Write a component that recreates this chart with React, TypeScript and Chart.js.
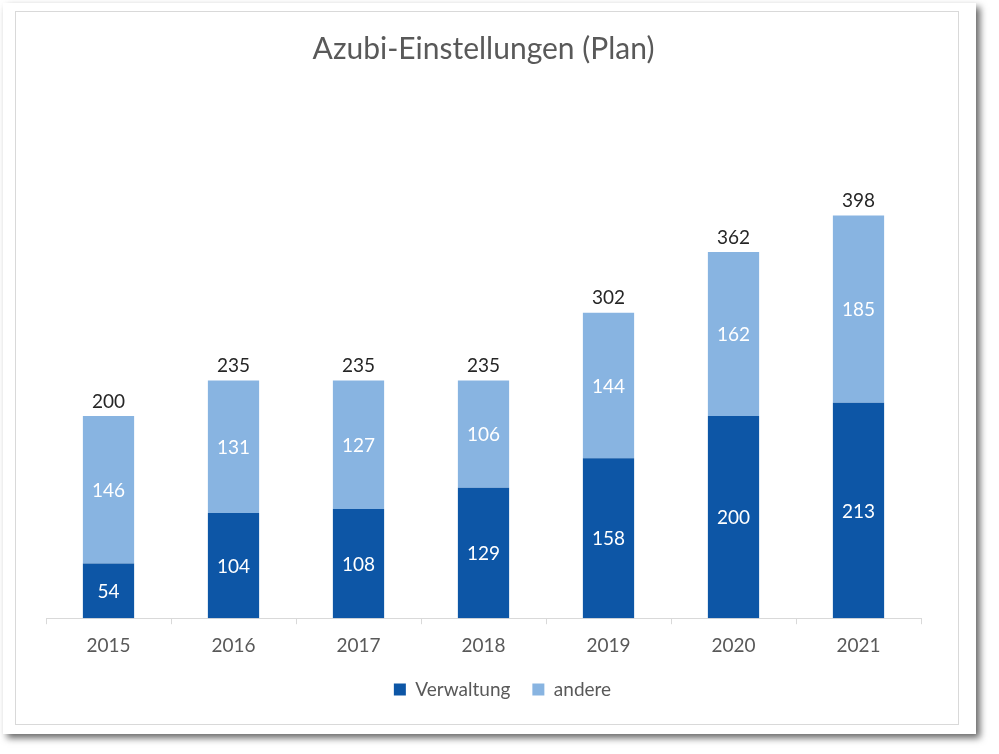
import React, { useEffect, useRef } from "react";
import { Chart, registerables } from "chart.js";

Chart.register(...registerables);

const categories = ["2015", "2016", "2017", "2018", "2019", "2020", "2021"];
const verwaltung = [54, 104, 108, 129, 158, 200, 213];
const andere = [146, 131, 127, 106, 144, 162, 185];
const chartTitle = "Azubi-Einstellungen (Plan)";
const seriesNames = ["Verwaltung", "andere"];

const FONT = "Lato, 'Open Sans', sans-serif";

const labelsPlugin = {
  id: "stackLabels",
  afterLayout(chart: any) {
    const lg = chart.legend;
    if (lg) {
      lg.left += 19;
      lg.right += 19;
      lg.top -= 9;
      lg.bottom -= 9;
    }
  },
  afterDatasetsDraw(chart: any) {
    const ctx = chart.ctx;
    ctx.save();
    ctx.font = `19px ${FONT}`;
    ctx.textAlign = "center";
    chart.data.datasets.forEach((ds: any, di: number) => {
      const meta = chart.getDatasetMeta(di);
      meta.data.forEach((el: any, i: number) => {
        const { x, y, base } = el.getProps(["x", "y", "base"], true);
        ctx.fillStyle = "#ffffff";
        ctx.textBaseline = "middle";
        ctx.fillText(String(ds.data[i]), x, (y + base) / 2 + 1);
      });
    });
    const last = chart.getDatasetMeta(chart.data.datasets.length - 1);
    last.data.forEach((el: any, i: number) => {
      const { x, y } = el.getProps(["x", "y"], true);
      const total = chart.data.datasets.reduce((s: number, ds: any) => s + ds.data[i], 0);
      ctx.fillStyle = "#262626";
      ctx.textBaseline = "bottom";
      ctx.fillText(String(total), x, y - 5);
    });
    ctx.restore();
  },
};

export default function App() {
  const ref = useRef<HTMLCanvasElement>(null);
  useEffect(() => {
    if (!ref.current) return;
    const chart = new Chart(ref.current, {
      type: "bar",
      data: {
        labels: categories,
        datasets: [
          { label: seriesNames[0], data: verwaltung, backgroundColor: "#0D56A6", barPercentage: 0.41, categoryPercentage: 1 },
          { label: seriesNames[1], data: andere, backgroundColor: "#88B4E1", barPercentage: 0.41, categoryPercentage: 1 },
        ],
      },
      options: {
        animation: false,
        responsive: false,
        layout: { padding: { left: 30, right: 37, top: 0, bottom: 6 } },
        scales: {
          x: {
            stacked: true,
            grid: { display: true, drawOnChartArea: false, drawTicks: true, tickLength: 6, color: "#d9d9d9", offset: true },
            border: { display: true, color: "#d9d9d9" },
            ticks: { color: "#595959", font: { family: FONT, size: 19 }, padding: 10 },
          },
          y: { stacked: true, display: false, min: 0, max: 450 },
        },
        plugins: {
          title: {
            display: true,
            text: chartTitle,
            color: "#595959",
            font: { family: FONT, size: 30, weight: "normal" },
            padding: { top: 19, bottom: 96 },
          },
          legend: {
            position: "bottom",
            labels: { color: "#595959", font: { family: FONT, size: 19 }, boxWidth: 12, boxHeight: 12, padding: 22 },
          },
          tooltip: { enabled: false },
        },
      },
      plugins: [labelsPlugin],
    });
    return () => chart.destroy();
  }, []);

  return (
    <div style={{ position: "fixed", left: 0, top: 0, width: 999, height: 754, background: "#ffffff" }}>
      <div
        style={{
          position: "absolute",
          left: 3,
          top: 3,
          width: 973,
          height: 731,
          background: "#ffffff",
          boxShadow: "4px 4px 7px rgba(0,0,0,0.6)",
        }}
      />
      <div
        style={{
          position: "absolute",
          left: 15,
          top: 11,
          width: 942,
          height: 712,
          border: "1px solid #d9d9d9",
          background: "#ffffff",
        }}
      >
        <canvas ref={ref} width={942} height={712} style={{ display: "block" }} />
      </div>
    </div>
  );
}
